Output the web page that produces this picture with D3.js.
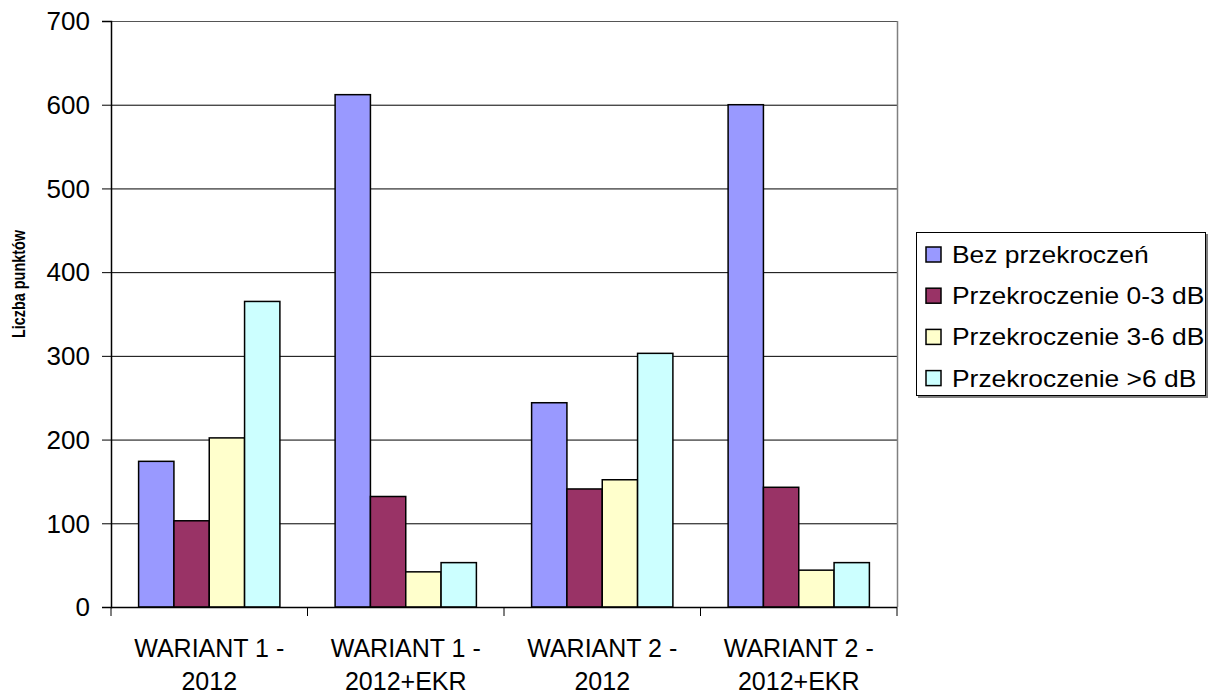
<!DOCTYPE html>
<html>
<head>
<meta charset="utf-8">
<script src="https://cdn.jsdelivr.net/npm/d3@7"></script>
<style>
  html, body { margin: 0; padding: 0; background: #fff; }
  svg { display: block; font-family: "Liberation Sans", Arial, sans-serif; }
</style>
</head>
<body>
<svg id="chart" width="1212" height="695"></svg>
<script>
const categories = [
  ["WARIANT 1 -", "2012"],
  ["WARIANT 1 -", "2012+EKR"],
  ["WARIANT 2 -", "2012"],
  ["WARIANT 2 -", "2012+EKR"]
];
const seriesNames = ["Bez przekroczeń", "Przekroczenie 0-3 dB", "Przekroczenie 3-6 dB", "Przekroczenie >6 dB"];
const seriesColors = ["#9999FF", "#993366", "#FFFFCC", "#CCFFFF"];
const bezPrzekroczen = [174, 612, 244, 600];
const przekroczenie03 = [103, 132, 141, 143];
const przekroczenie36 = [202, 42, 152, 44];
const przekroczenie6 = [365, 53, 303, 53];
const yTicks = [0, 100, 200, 300, 400, 500, 600, 700];
const yTitle = "Liczba punktów";

const seriesValues = [bezPrzekroczen, przekroczenie03, przekroczenie36, przekroczenie6];

const svg = d3.select("#chart");
const plot = { left: 111, right: 897, top: 21, bottom: 607 };

const y = d3.scaleLinear().domain([0, 700]).range([plot.bottom, plot.top]);
const catIdx = categories.map((d, i) => i);
const x = d3.scaleBand().domain(catIdx).range([plot.left, plot.right])
  .paddingInner(0.281).paddingOuter(0.1405);
const xs = d3.scaleBand().domain(d3.range(seriesNames.length)).range([0, x.bandwidth()]).padding(0);

// Gridlines
svg.append("g").selectAll("line").data(yTicks.filter(t => t > 0 && t < 700)).join("line")
  .attr("x1", plot.left).attr("x2", plot.right)
  .attr("y1", d => y(d) + 0.5).attr("y2", d => y(d) + 0.5)
  .attr("stroke", "#000").attr("stroke-width", 1);

// Plot border top/right
svg.append("line").attr("x1", plot.left).attr("x2", plot.right)
  .attr("y1", plot.top + 0.5).attr("y2", plot.top + 0.5).attr("stroke", "#555").attr("stroke-width", 1);
svg.append("line").attr("x1", plot.right + 0.5).attr("x2", plot.right + 0.5)
  .attr("y1", plot.top).attr("y2", plot.bottom).attr("stroke", "#808080").attr("stroke-width", 1.5);

// Bars
const groups = svg.append("g").selectAll("g").data(catIdx).join("g")
  .attr("transform", d => `translate(${x(d)},0)`);
groups.selectAll("rect").data(ci => seriesValues.map((vals, si) => ({ si, v: vals[ci] }))).join("rect")
  .attr("x", d => xs(d.si))
  .attr("width", xs.bandwidth())
  .attr("y", d => y(d.v))
  .attr("height", d => y(0) - y(d.v))
  .attr("fill", d => seriesColors[d.si])
  .attr("stroke", "#000").attr("stroke-width", 1.5);

// Y axis
const yAxis = d3.axisLeft(y).tickValues(yTicks).tickSize(9).tickPadding(12);
const yg = svg.append("g").attr("transform", `translate(${plot.left},0)`).call(yAxis);
yg.select(".domain").attr("stroke", "#000").attr("stroke-width", 1.5);
yg.selectAll(".tick line").attr("stroke", "#000");
yg.selectAll(".tick text").attr("font-size", 26).attr("fill", "#000")
  .attr("font-family", "Liberation Sans, Arial, sans-serif").attr("dy", "0.34em");

// X axis (ticks at category boundaries)
const xg = svg.append("g");
xg.append("line").attr("x1", plot.left).attr("x2", plot.right)
  .attr("y1", plot.bottom + 0.5).attr("y2", plot.bottom + 0.5).attr("stroke", "#000").attr("stroke-width", 1.5);
xg.selectAll("line.tk").data(d3.range(categories.length + 1)).join("line").attr("class", "tk")
  .attr("x1", i => i < categories.length ? x(i) - (x.step() - x.bandwidth()) / 2 : plot.right)
  .attr("x2", i => i < categories.length ? x(i) - (x.step() - x.bandwidth()) / 2 : plot.right)
  .attr("y1", plot.bottom).attr("y2", plot.bottom + 9)
  .attr("stroke", "#000").attr("stroke-width", 1);
const labels = xg.selectAll("text.cat").data(catIdx).join("text").attr("class", "cat")
  .attr("x", i => x(i) + x.bandwidth() / 2)
  .attr("y", 657)
  .attr("text-anchor", "middle").attr("font-size", 25).attr("fill", "#000");
labels.selectAll("tspan").data(i => categories[i]).join("tspan")
  .attr("x", function() { return d3.select(this.parentNode).attr("x"); })
  .attr("dy", (d, k) => k === 0 ? 0 : 33)
  .text(d => d);

// Y title
svg.append("text")
  .attr("transform", "translate(25,284) rotate(-90)")
  .attr("text-anchor", "middle").attr("font-size", 18).attr("font-weight", "bold")
  .attr("textLength", 108).attr("lengthAdjust", "spacingAndGlyphs")
  .text(yTitle);

// Legend
const lg = svg.append("g");
lg.append("rect").attr("x", 918).attr("y", 234).attr("width", 290).attr("height", 164).attr("fill", "#808080");
lg.append("rect").attr("x", 916.5).attr("y", 232.5).attr("width", 289).attr("height", 163)
  .attr("fill", "#fff").attr("stroke", "#000").attr("stroke-width", 1);
const items = lg.selectAll("g.item").data(seriesNames).join("g").attr("class", "item")
  .attr("transform", (d, i) => `translate(0,${254.5 + i * 41.2})`);
items.append("rect").attr("x", 926).attr("y", -7.5).attr("width", 15).attr("height", 15)
  .attr("fill", (d, i) => seriesColors[i]).attr("stroke", "#000").attr("stroke-width", 1.5);
items.append("text").attr("x", 952).attr("y", 8.5).attr("font-size", 24).attr("fill", "#000")
  .text(d => d)
  .each(function() {
    const w = this.getComputedTextLength();
    d3.select(this).attr("textLength", w * 1.1).attr("lengthAdjust", "spacingAndGlyphs");
  });
</script>
</body>
</html>
